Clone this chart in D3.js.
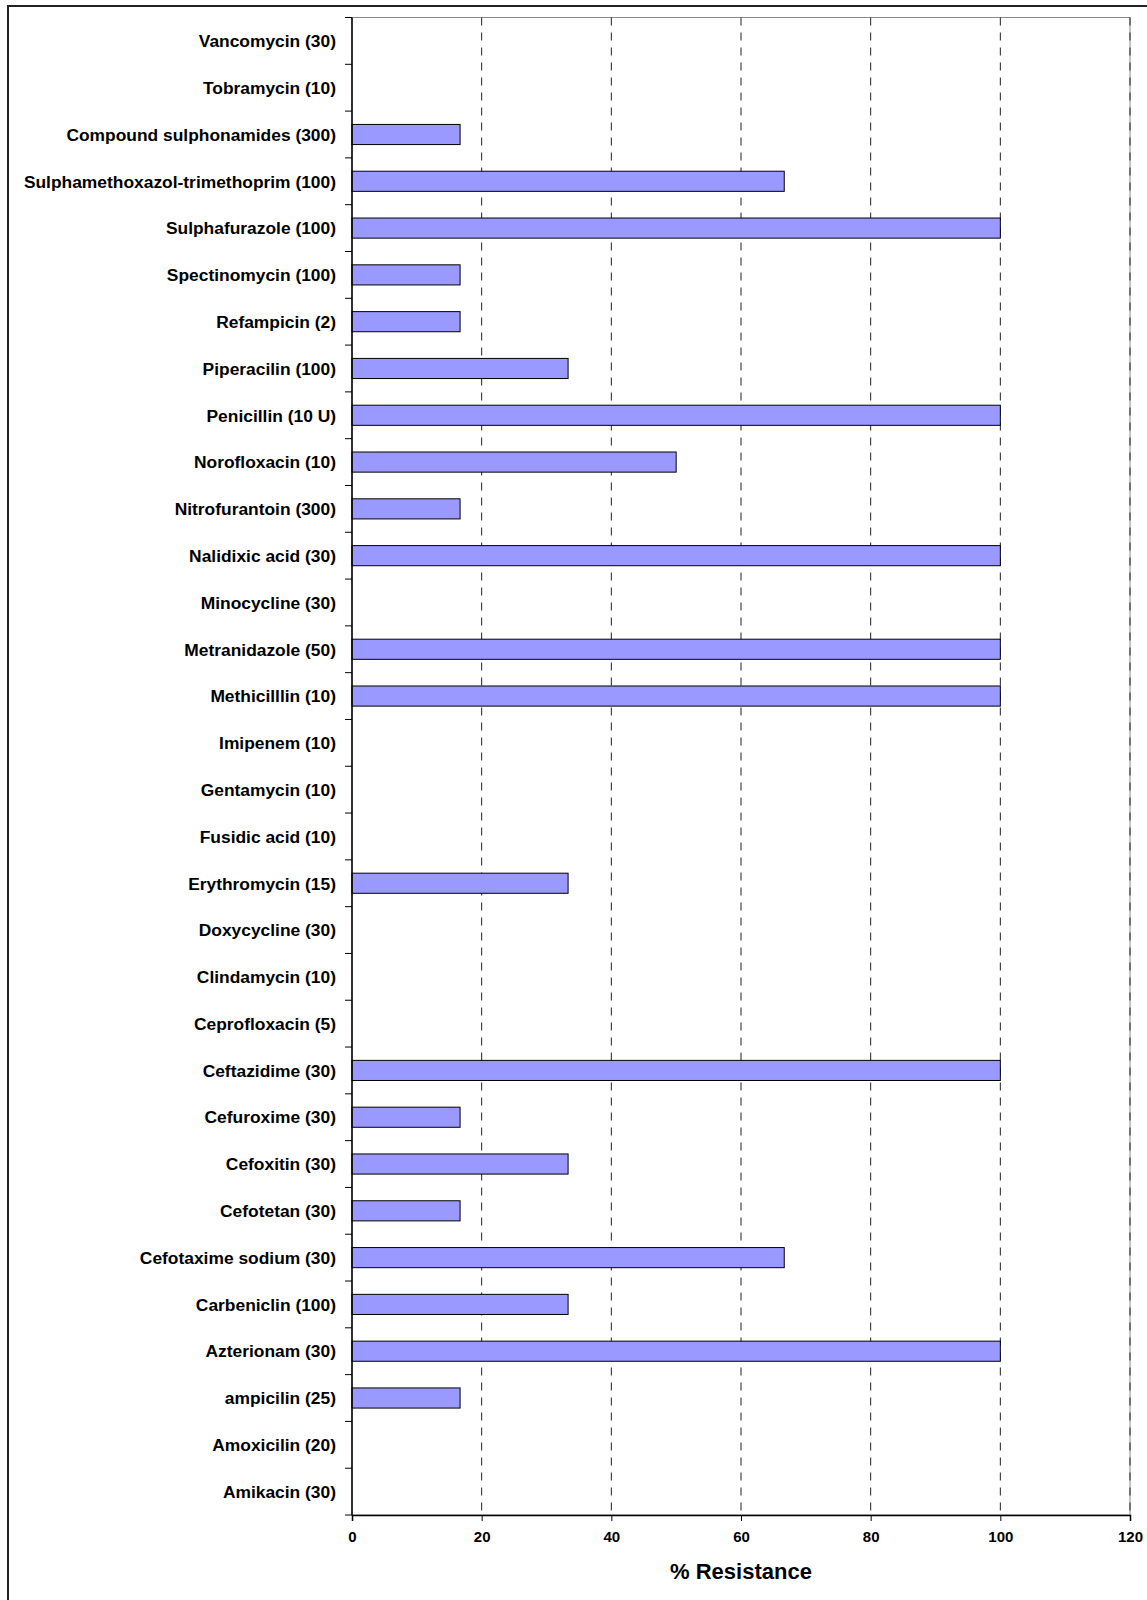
<!DOCTYPE html>
<html>
<head>
<meta charset="utf-8">
<script src="https://cdn.jsdelivr.net/npm/d3@7"></script>
<style>
  body { margin: 0; background: #fff; }
  svg { display: block; font-family: "Liberation Sans", Arial, sans-serif; }
</style>
</head>
<body>
<svg id="chart" width="1147" height="1600"></svg>
<script>
// données : antibiotique (dose) et % de résistance, de haut en bas
const drugs = [
  "Vancomycin (30)", "Tobramycin (10)", "Compound sulphonamides (300)",
  "Sulphamethoxazol-trimethoprim (100)", "Sulphafurazole (100)", "Spectinomycin (100)",
  "Refampicin (2)", "Piperacilin (100)", "Penicillin (10 U)", "Norofloxacin (10)",
  "Nitrofurantoin (300)", "Nalidixic acid (30)", "Minocycline (30)", "Metranidazole (50)",
  "Methicilllin (10)", "Imipenem (10)", "Gentamycin (10)", "Fusidic acid (10)",
  "Erythromycin (15)", "Doxycycline (30)", "Clindamycin (10)", "Ceprofloxacin (5)",
  "Ceftazidime (30)", "Cefuroxime (30)", "Cefoxitin (30)", "Cefotetan (30)",
  "Cefotaxime sodium (30)", "Carbeniclin (100)", "Azterionam (30)", "ampicilin (25)",
  "Amoxicilin (20)", "Amikacin (30)"
];
const resistance = [
  0, 0, 16.67,
  66.67, 100, 16.67,
  16.67, 33.33, 100, 50,
  16.67, 100, 0, 100,
  100, 0, 0, 0,
  33.33, 0, 0, 0,
  100, 16.67, 33.33, 16.67,
  66.67, 33.33, 100, 16.67,
  0, 0
];
const xTicks = [0, 20, 40, 60, 80, 100, 120];
const xTitle = "% Resistance";

const svg = d3.select("#chart");
const plot = { left: 352, right: 1130, top: 17.5, bottom: 1515 };

// cadre extérieur (coupé à droite et en bas)
svg.append("rect")
  .attr("x", 8).attr("y", 6)
  .attr("width", 1160).attr("height", 1620)
  .attr("fill", "none").attr("stroke", "#222").attr("stroke-width", 2);

const x = d3.scaleLinear().domain([0, 120]).range([plot.left, plot.right]);
const y = d3.scaleBand().domain(drugs).range([plot.top, plot.bottom]).paddingInner(0.57).paddingOuter(0.285);
const yEdge = d3.scaleLinear().domain([0, drugs.length]).range([plot.top, plot.bottom]);

// bordure de la zone de tracé
svg.append("rect")
  .attr("x", plot.left).attr("y", plot.top)
  .attr("width", plot.right - plot.left).attr("height", plot.bottom - plot.top)
  .attr("fill", "none").attr("stroke", "#8a8a8a").attr("stroke-width", 1);

// grille verticale en tirets
svg.append("g").selectAll("line")
  .data(xTicks.filter(d => d > 0))
  .join("line")
  .attr("x1", d => x(d)).attr("x2", d => x(d))
  .attr("y1", plot.top).attr("y2", plot.bottom)
  .attr("stroke", "#222").attr("stroke-width", 1)
  .attr("stroke-dasharray", "8,7");

// barres
svg.append("g").selectAll("rect")
  .data(drugs.map((d, i) => ({ drug: d, value: resistance[i] })).filter(d => d.value > 0))
  .join("rect")
  .attr("x", x(0))
  .attr("y", d => y(d.drug))
  .attr("width", d => x(d.value) - x(0))
  .attr("height", y.bandwidth())
  .attr("fill", "#9999ff")
  .attr("stroke", "#000").attr("stroke-width", 1);

// axe Y : ligne + graduations entre catégories
const gy = svg.append("g");
gy.append("line")
  .attr("x1", plot.left).attr("x2", plot.left)
  .attr("y1", plot.top).attr("y2", plot.bottom)
  .attr("stroke", "#000").attr("stroke-width", 1.5);
gy.selectAll("line.tick")
  .data(d3.range(drugs.length + 1))
  .join("line").attr("class", "tick")
  .attr("x1", plot.left - 7).attr("x2", plot.left)
  .attr("y1", d => yEdge(d)).attr("y2", d => yEdge(d))
  .attr("stroke", "#000").attr("stroke-width", 1);
gy.selectAll("text")
  .data(drugs)
  .join("text")
  .attr("x", 336)
  .attr("y", d => y(d) + y.bandwidth() / 2)
  .attr("dy", "0.36em")
  .attr("text-anchor", "end")
  .attr("font-size", 17.4)
  .attr("font-weight", "bold")
  .attr("fill", "#000")
  .text(d => d);

// axe X
const gx = svg.append("g").attr("transform", `translate(0,${plot.bottom})`)
  .call(d3.axisBottom(x).tickValues(xTicks).tickSize(6).tickPadding(10));
gx.select(".domain").attr("stroke", "#000").attr("stroke-width", 1.5);
gx.selectAll(".tick line").attr("stroke", "#000");
gx.selectAll(".tick text")
  .attr("font-size", 15).attr("font-weight", "bold")
  .attr("font-family", "'Liberation Sans', Arial, sans-serif")
  .attr("fill", "#000");

// titre de l'axe X
svg.append("text")
  .attr("x", (plot.left + plot.right) / 2)
  .attr("y", 1579)
  .attr("text-anchor", "middle")
  .attr("font-size", 22)
  .attr("font-weight", "bold")
  .text(xTitle);
</script>
</body>
</html>
